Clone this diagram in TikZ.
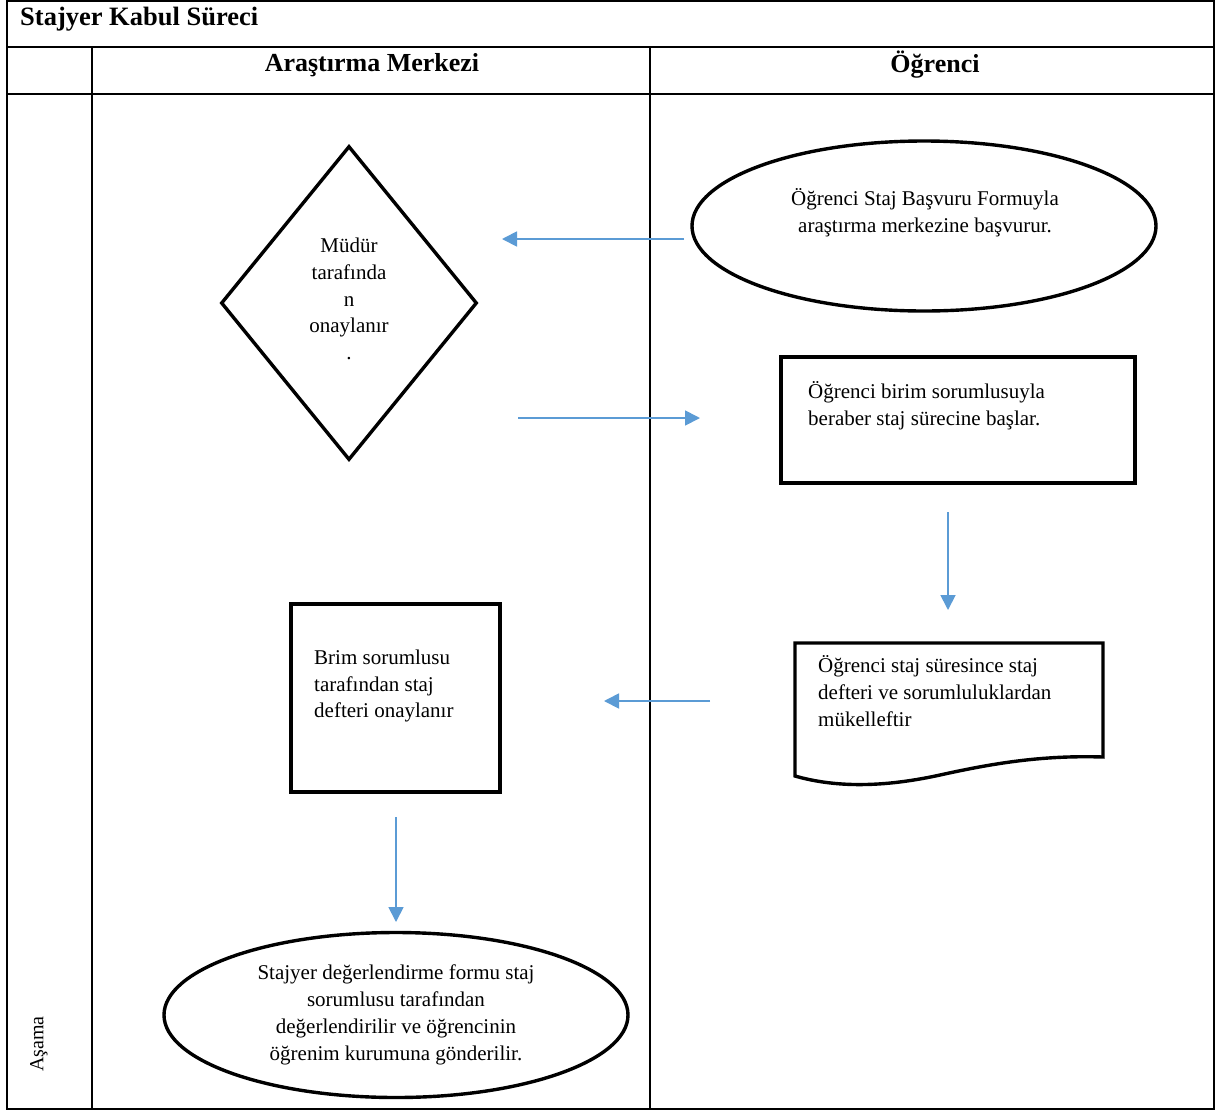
\documentclass[tikz,border=0pt]{standalone}
\usepackage{fontspec}
\setmainfont{Liberation Serif}
\usetikzlibrary{shapes.geometric,arrows.meta}
\definecolor{arrowblue}{HTML}{5B9BD5}
\begin{document}
\begin{tikzpicture}[x=1pt,y=-1pt,
  frame/.style={line width=1.8pt},
  shp/.style={draw, line width=3.4pt, inner sep=0pt},
  txt/.style={font=\fontsize{21}{26.8}\selectfont, inner sep=0pt},
  hdr/.style={font=\fontsize{26}{30}\selectfont\bfseries, inner sep=0pt},
  flow/.style={draw=arrowblue, line width=1.8pt, -{Triangle[length=15pt,width=15pt]}}]
\useasboundingbox (0,0) rectangle (1216,1112);
\fill[white] (0,0) rectangle (1216,1112);
% table frame
\draw[frame] (7,1) rectangle (1214,1109);
\draw[frame] (7,47) -- (1214,47);
\draw[frame] (7,94) -- (1214,94);
\draw[frame] (92,47) -- (92,1109);
\draw[frame] (650,47) -- (650,1109);
% headers
\node[hdr, anchor=west, font=\fontsize{26.5}{30}\selectfont\bfseries] (title) at (20,19) {Stajyer Kabul Süreci};
\node[hdr] (colA) at (372,65) {Araştırma Merkezi};
\node[hdr] (colB) at (935,65) {Öğrenci};
\node[txt, rotate=90, font=\fontsize{20}{24}\selectfont] (asama) at (39,1044) {Aşama};
% diamond
\node[shp, diamond, minimum width=256pt, minimum height=314pt] (d1) at (349,303) {};
\node[txt, align=center] (d1t) at (349,299) {Müdür\\tarafında\\n\\onaylanır\\.};
% ellipse 1
\node[shp, ellipse, minimum width=464pt, minimum height=170pt] (e1) at (924,226) {};
\node[txt, align=center] (e1t) at (925,213) {Öğrenci Staj Başvuru Formuyla\\araştırma merkezine başvurur.};
% rectangle 1
\node[shp, rectangle, minimum width=354pt, minimum height=126pt] (r1) at (958,420) {};
\node[txt, align=left, anchor=west] (r1t) at (808,406) {Öğrenci birim sorumlusuyla\\beraber staj sürecine başlar.};
% document shape
\draw[shp] (795,643) -- (1103,643) -- (1103,757)
  .. controls (1040,755) and (990,764) .. (940,775)
  .. controls (890,786) and (840,789) .. (795,776) -- cycle;
\coordinate (doc) at (949,700);
\node[txt, align=left, anchor=west] (doct) at (818,691) {Öğrenci staj süresince staj\\defteri ve sorumluluklardan\\mükelleftir};
% rectangle 2
\node[shp, rectangle, minimum width=209pt, minimum height=188pt] (r2) at (395.5,698) {};
\node[txt, align=left, anchor=west] (r2t) at (314,686) {Brim sorumlusu\\tarafından staj\\defteri onaylanır};
% ellipse 2
\node[shp, ellipse, minimum width=464pt, minimum height=165pt] (e2) at (396,1015) {};
\node[txt, align=center] (e2t) at (396,1015) {Stajyer değerlendirme formu staj\\sorumlusu tarafından\\değerlendirilir ve öğrencinin\\öğrenim kurumuna gönderilir.};
% arrows
\coordinate (a1s) at (684,239); \coordinate (a1e) at (502,239);
\coordinate (a2s) at (518,418); \coordinate (a2e) at (700,418);
\coordinate (a3s) at (948,512); \coordinate (a3e) at (948,610);
\coordinate (a4s) at (710,701); \coordinate (a4e) at (604,701);
\coordinate (a5s) at (396,817); \coordinate (a5e) at (396,922);
\draw[flow] (a1s) -- (a1e);
\draw[flow] (a2s) -- (a2e);
\draw[flow] (a3s) -- (a3e);
\draw[flow] (a4s) -- (a4e);
\draw[flow] (a5s) -- (a5e);
\end{tikzpicture}
\end{document}
